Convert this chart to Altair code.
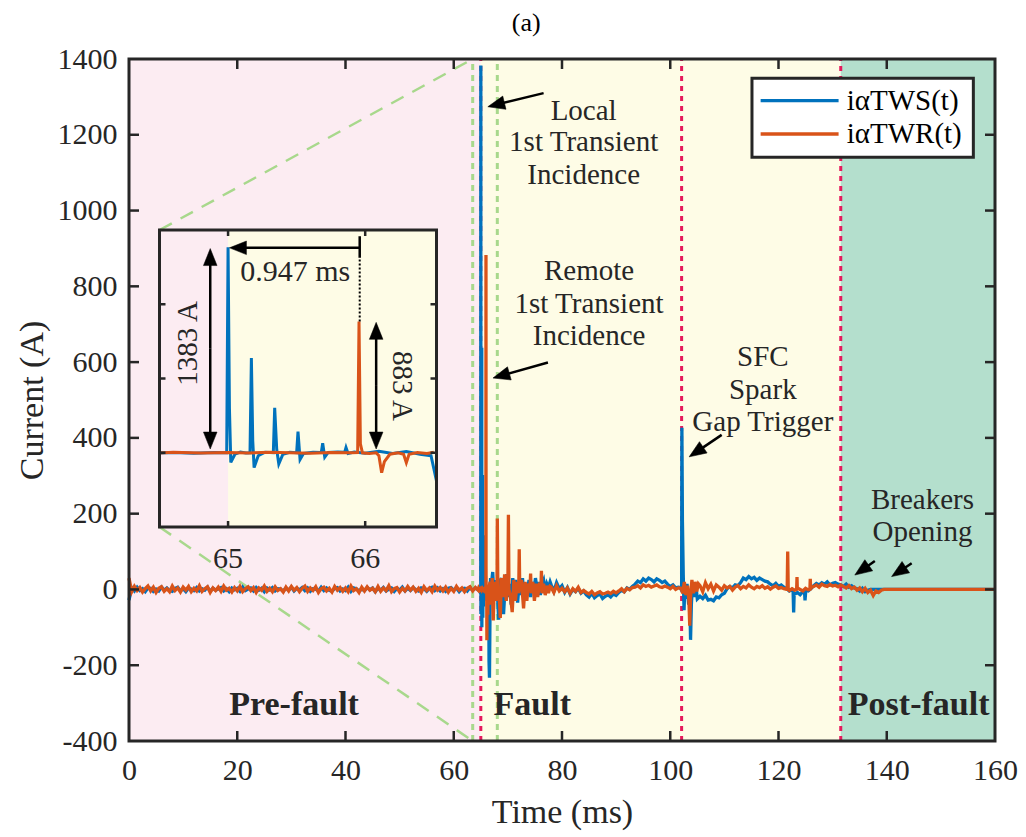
import math
import altair as alt
import pandas as pd

FONT = "Liberation Serif"
INK = "#262626"
BLUE = "#0072BD"
ORANGE = "#D95319"
PINK = "#FCECF2"
YELLOW = "#FEFCE6"
TEAL = "#B4DFCD"
GREEN = "#A8D88C"
RED = "#E5195C"

W, H = 866, 682
X_DOMAIN = [0, 160]
Y_DOMAIN = [-400, 1400]
PX_X = W / 160.0
PX_Y = H / 1800.0

# ---------------- series values ----------------
# pre-fault, sampled every 0.5 ms from 0 ms
TWS_PRE = [-28, 5, -4, 6, -3, 2, -6, 4, 3, -5, 1, -4, 6, -2, 4, -3, -5, 3, 6, -4,
           2, -6, 4, 1, -3, 5, -4, 2, -2, 6, -5, 3, -2, 1, 5, -4, 2, -6, 4, -1,
           3, -5, 6, -3, 1, 4, -4, 5, -2, 3, -6, 4, -1, 5, -4, 2, 1, -5, 4, -2,
           6, -4, 3, -1, 5, -3, 4, -5, 2, 1, -4, 6, -3, 4, -2, -5, 3, 5, -4, 1,
           -3, 6, -5, 4, 2, -4, 1, -3, 5, -1, 4, -6, 3, -2, 5, -4, 1, 4, -5, 3,
           -2, 6, -4, 3, -3, 5, -1, -4, 4, 2, -5, 3, 6, -3, 4, -4, 2, -5, 3, 5,
           -2, 4, -6, 2, 3, -4, 5, -2, 4, -1]
TWR_PRE = [30, -6, 8, -3, 5, -7, 2, 9, -4, 6, -8, 3, 7, -5, 2, -6, 9, -3, 4, -7,
           6, -2, 8, -6, 3, -4, 10, -5, 2, 7, -8, 4, -3, 6, -5, 9, -2, 3, -7, 5,
           -4, 8, -6, 2, 7, -3, 5, -8, 4, -2, 9, -5, 3, -6, 7, -3, 2, -7, 6, -4,
           8, -2, 5, -6, 3, 9, -5, 4, -3, 7, -8, 2, 6, -4, 3, -7, 8, -2, 5, -5,
           4, -6, 9, -3, 2, -8, 6, -4, 7, -2, 3, -6, 8, -5, 4, -3, 10, -6, 2, 5,
           -7, 3, -4, 8, -2, 6, -5, 3, -8, 7, -3, 4, -6, 9, -2, 5, -4, 6, -7, 3,
           -5, 8, -2, 4, -6, 3, 7, -4, 5, -2]

# first transient (explicit times)
TWS_T1_T = [64.6, 64.75, 64.9, 64.99, 65.0, 65.01, 65.02, 65.05, 65.09, 65.13,
            65.16, 65.17, 65.18, 65.19, 65.22, 65.27, 65.33, 65.34, 65.355, 65.37,
            65.4, 65.45, 65.5, 65.51, 65.525, 65.55, 65.62, 65.68, 65.69, 65.705,
            65.73, 65.8, 65.85, 65.86, 65.875, 65.92, 66.0, 66.1, 66.2, 66.3,
            66.4, 66.48, 66.52, 66.6, 66.7, 66.8, 66.9, 67.0, 67.2, 67.4,
            67.6, 67.8, 68.0, 68.3, 68.5, 68.8, 69.0, 69.2, 69.5, 69.8,
            70.0, 70.3, 70.6, 70.9, 71.2, 71.5, 71.8, 72.1, 72.4, 72.7,
            73.0, 73.3, 73.6, 73.9, 74.2, 74.5, 74.8, 75.1, 75.4, 75.7,
            76.0, 76.3, 76.6, 76.9, 77.2, 77.5, 77.8]
TWS_T1_V = [2, -3, 1, 0, 1383, 300, -65, -10, 5, -2,
            0, 638, 80, -100, -20, 4, 0, 302, 20, -75,
            -10, 3, 0, 143, -45, -5, 4, 2, 65, -30,
            2, 5, 3, 35, -5, 5, -3, 10, -5, 8,
            -10, -20, -190, -233, -60, 30, -20, 20, 46, -10,
            25, -30, 10, -80, 20, 30, -10, -65, 10, 40,
            -20, 15, -40, 30, -10, 25, -35, 20, -15, 30,
            -25, 15, -10, 25, -20, 20, -5, 30, 0, 20,
            -15, 15, 25, -5, 15, 5, 20]
TWR_T1_T = [64.6, 64.8, 65.0, 65.15, 65.3, 65.45, 65.6, 65.75, 65.9, 65.945,
            65.955, 65.965, 65.98, 66.03, 66.08, 66.1, 66.12, 66.14, 66.18, 66.24,
            66.28, 66.3, 66.32, 66.38, 66.45, 66.5, 66.7, 66.9, 67.1, 67.3,
            67.5, 67.8, 68.0, 68.05, 68.15, 68.4, 68.6, 68.8, 69.1, 69.4,
            69.7, 70.0, 70.1, 70.2, 70.5, 70.8, 71.1, 71.4, 71.7, 72.0,
            72.1, 72.2, 72.5, 72.9, 73.2, 73.5, 73.8, 74.1, 74.2, 74.3,
            74.6, 74.9, 75.2, 75.5, 75.8, 76.1, 76.2, 76.3, 76.6, 76.9,
            77.2, 77.5, 77.8]
TWR_T1_V = [3, -2, 2, -2, 3, 0, -3, 2, 0, 2,
            883, 60, 0, -5, 0, -20, -134, -60, -10, 0,
            -10, -67, -10, 2, -5, 3, 20, -40, 30, -82,
            20, -30, 10, 187, 0, -20, -75, 30, -20, 40,
            -30, 10, 197, 0, -20, -60, 25, -30, 20, -10,
            106, -5, 25, -50, 20, -30, 15, 5, 42, -10,
            20, -30, 15, -20, 10, 5, 49, -10, 15, -15,
            10, -10, 8]

# fault period, sampled every 0.5 ms from 78 ms
TWS_MID1 = [12, -5, 18, 2, 10,
            -8, 5, -12, 0, -6, 3, -10, -4,
            -14, -20, -10, -22, -16, -12, -24, -18, -14, -20, -12, -16,
            -8, -2, -6, 4, 0, 8,
            14, 22, 18, 28, 22, 30, 26, 20, 28, 24, 18, 22,
            14, 8, 12, 4, 6]
TWR_MID1 = [6, -8, 10, -4, 3,
            -6, 4, -10, 2, -5, 6, -8, -3,
            -8, -12, -5, -14, -9, -6, -12, -10, -7, -11, -5, -9,
            -4, 2, -6, 3, -1, 5,
            6, 10, 4, 12, 8, 11, 6, 9, 12, 7, 5, 9,
            6, 2, 8, 0, 4]

# spark-gap trigger transient (explicit times)
TWS_T2_T = [101.8, 102.0, 102.1, 102.15, 102.25, 102.4, 102.55, 102.7, 102.9, 103.1,
            103.4, 103.6, 103.75, 103.9, 104.1, 104.4, 104.7, 105.0]
TWS_T2_V = [5, 0, 3, 427, 180, 40, -55, 10, -25, 15,
            -40, -10, -133, -40, 10, -20, 15, -25]
TWR_T2_T = [102.0, 102.3, 102.6, 102.9, 103.2, 103.45, 103.6, 103.75, 104.0, 104.3,
            104.6, 104.9, 105.2]
TWR_T2_V = [3, -10, 20, -15, 10, -30, -96, -20, 25, -10, 20, -5, 15]

# after trigger, sampled every 0.5 ms from 105.5 ms
TWS_MID2 = [-18, -24, -15, -28,
            -26, -30, -20, -22, -14, -10,
            2, 8, 4, 12, 10, 18,
            30, 26, 34, 28, 32, 24, 30, 26, 22, 20,
            14, 10, 16, 8, 12, 6,
            2, -4, 0,
            -12, -8, -14, -6, -10, -4, 2,
            10, 16, 12, 18, 14, 20, 12, 16, 18, 14,
            12, 8, 14, 6, 10, 4,
            2, -4, 3, -6, -2, 0]
TWR_MID2 = [10, -6, 18, 2, 14, -4, 12, 6, -2, 10,
            4, 8, -2, 6, 10, 2, 8, 4, 12, 6, 2, 8, 5, 10, 3, 7, 1, 6, 9, 3, 5, 2,
            0, -3, 2, -2, 4, 0, -4, 3, -1, 5,
            8, 12, 6, 14, 10, 8, 13, 9, 11, 7, 12,
            8, 4, 10, 2, 6, -2, 4, -6, 3, -8, -2, -16, -4, -8, -2, 0]

# isolated short spikes
TWS_SPK_T = [122.7, 122.8, 122.9, 124.8, 124.9, 125.0]
TWS_SPK_V = [-5, -61, -8, -4, -29, -2]
TWR_SPK_T = [121.6, 121.7, 121.8, 123.35, 123.42, 123.48, 125.8, 125.87, 125.94]
TWR_SPK_V = [0, 100, 0, 0, 33, 0, 0, 28, 0]

# flat after breakers open
TWS_END_T = [137.5, 160]
TWS_END_V = [0, 0]
TWR_END_T = [140.0, 160]
TWR_END_V = [0, 0]


def grid(start, vals, step=0.5):
    return [round(start + step * i, 3) for i in range(len(vals))]


tws = pd.DataFrame({
    "t": grid(0, TWS_PRE) + TWS_T1_T + grid(78, TWS_MID1) + TWS_T2_T
         + grid(105.5, TWS_MID2) + TWS_SPK_T + TWS_END_T,
    "v": TWS_PRE + TWS_T1_V + TWS_MID1 + TWS_T2_V + TWS_MID2 + TWS_SPK_V + TWS_END_V,
})
twr = pd.DataFrame({
    "t": grid(0, TWR_PRE) + TWR_T1_T + grid(78, TWR_MID1) + TWR_T2_T
         + grid(105.5, TWR_MID2) + TWR_SPK_T + TWR_END_T,
    "v": TWR_PRE + TWR_T1_V + TWR_MID1 + TWR_T2_V + TWR_MID2 + TWR_SPK_V + TWR_END_V,
})

# ---------------- regions / reference lines ----------------
BAND_START = [0, 65.0, 131.5]
BAND_END = [65.0, 131.5, 160]
BAND_COLORS = [PINK, YELLOW, TEAL]
GREEN_X = [63.5, 68.05]
RED_X = [65.0, 102.1, 131.5]
X_TICKS = list(range(0, 161, 20))
Y_TICKS = list(range(-400, 1401, 200))

# inset geometry (zoom of 64.5 - 66.52 ms)
I_X_DOMAIN = [64.5, 66.52]
I_Y_DOMAIN = [-500, 1500]
I_X_RANGE = [30.5, 307.5]
I_Y_RANGE = [468, 171]
IPX_X = (I_X_RANGE[1] - I_X_RANGE[0]) / (I_X_DOMAIN[1] - I_X_DOMAIN[0])
IPX_Y = (I_Y_RANGE[0] - I_Y_RANGE[1]) / (I_Y_DOMAIN[1] - I_Y_DOMAIN[0])
I_BAND_START = [64.5, 65.0]
I_BAND_END = [65.0, 66.52]
I_BAND_COLORS = [PINK, YELLOW]
I_X_TICKS = [65, 66]
I_Y_TICKS = [0, 500, 1000]
# inset box corners expressed on main axes (for the zoom guide lines)
INSET_MAIN_X = 5.64
INSET_MAIN_TOP = 948.7
INSET_MAIN_BOTTOM = 164.9

# ---------------- scales / axes ----------------
XS = alt.Scale(domain=X_DOMAIN, nice=False, zero=False)
YS = alt.Scale(domain=Y_DOMAIN, nice=False, zero=False)
XA = alt.Axis(values=X_TICKS, grid=False, domain=False, ticks=False, labelPadding=14,
              labelFlush=False, labelOverlap=False, title="Time (ms)",
              titleBaseline="alphabetic", titleY=81)
YA = alt.Axis(values=Y_TICKS, grid=False, domain=False, ticks=False, labelPadding=12,
              labelFlush=False, labelOverlap=False, labelExpr="'' + datum.value",
              title="Current (A)", titleBaseline="alphabetic", titleX=-87, titleY=341,
              titleAngle=270, titleAlign="center")


def X(f):
    return alt.X(f"{f}:Q", scale=XS, axis=XA)


def Y(f):
    return alt.Y(f"{f}:Q", scale=YS, axis=YA)


IXS = alt.Scale(domain=I_X_DOMAIN, range=I_X_RANGE, nice=False, zero=False)
IYS = alt.Scale(domain=I_Y_DOMAIN, range=I_Y_RANGE, nice=False, zero=False)


def IX(f):
    return alt.X(f"{f}:Q", scale=IXS, axis=None)


def IY(f):
    return alt.Y(f"{f}:Q", scale=IYS, axis=None)


# ---------------- arrows ----------------
HEAD = "M0,0L-0.4,1L0.4,1Z"
HEAD_LEN = 17


def build_arrows(arrows, px_x, px_y):
    rules, heads = [], []
    for (tx, ty), (hx, hy) in arrows:
        dx = (hx - tx) * px_x
        dy = -(hy - ty) * px_y
        length = math.hypot(dx, dy)
        ang = math.degrees(math.atan2(dx, -dy)) % 360
        f = (HEAD_LEN * 0.6) / length
        ex = hx - (hx - tx) * f
        ey = hy - (hy - ty) * f
        rules.append({"x": tx, "y": ty, "x2": ex, "y2": ey})
        heads.append({"x": hx, "y": hy, "ang": ang})
    return pd.DataFrame(rules), pd.DataFrame(heads)


MAIN_ARROWS = [
    ((76.6, 1310), (66.3, 1274)),
    ((77.4, 599), (67.25, 558)),
    ((109.5, 408), (103.5, 350)),
    ((137.8, 75), (134.1, 38)),
    ((144.6, 69), (140.9, 34)),
]
INSET_ARROWS = [
    ((64.87, 700), (64.87, 1375)),
    ((64.87, 700), (64.87, 25)),
    ((66.08, 450), (66.08, 878)),
    ((66.08, 450), (66.08, 25)),
    ((65.96, 1380), (65.01, 1380)),
]

# ---------------- text ----------------
NOTE_TEXT = ["Local", "1st Transient", "Incidence",
             "Remote", "1st Transient", "Incidence",
             "SFC", "Spark", "Gap Trigger",
             "Breakers", "Opening"]
NOTE_X = [84.0, 84.0, 84.0, 85.0, 85.0, 85.0, 117.1, 117.1, 117.1, 146.6, 146.6]
NOTE_Y = [1263, 1181, 1094, 840, 753, 669, 613, 526, 442, 236, 152]
PHASE_TEXT = ["Pre-fault", "Fault", "Post-fault"]
PHASE_X = [30.5, 74.5, 145.9]
PHASE_Y = [-305, -305, -305]
LEGEND_NAMES = ["i\u03b1TWS(t)", "i\u03b1TWR(t)"]
LEGEND_COLORS = [BLUE, ORANGE]
LEGEND_Y = [1290, 1202]

# ---------------- main layers ----------------
bands = pd.DataFrame({"s": BAND_START, "e": BAND_END, "c": BAND_COLORS,
                      "y0": -400, "y1": 1400})
band_layer = alt.Chart(bands).mark_rect().encode(
    x=X("s"), x2="e", y=Y("y0"), y2="y1", color=alt.Color("c:N", scale=None))

green_v = alt.Chart(pd.DataFrame({"x": GREEN_X, "y0": -400, "y1": 1400})).mark_rule(
    color=GREEN, strokeWidth=3, strokeDash=[6, 5]).encode(x=X("x"), y=Y("y0"), y2="y1")

green_d = alt.Chart(pd.DataFrame({
    "x": [INSET_MAIN_X, INSET_MAIN_X], "y": [INSET_MAIN_TOP, INSET_MAIN_BOTTOM],
    "x2": [GREEN_X[0], GREEN_X[0]], "y2": [1400, -400]})).mark_rule(
    color=GREEN, strokeWidth=2.5, strokeDash=[14, 10]).encode(
    x=X("x"), y=Y("y"), x2="x2", y2="y2")

red_v = alt.Chart(pd.DataFrame({"x": RED_X, "y0": -400, "y1": 1400})).mark_rule(
    color=RED, strokeWidth=3, strokeDash=[5, 5]).encode(x=X("x"), y=Y("y0"), y2="y1")

line_tws = alt.Chart(tws).mark_line(color=BLUE, strokeWidth=3.3).encode(x=X("t"), y=Y("v"))
line_twr = alt.Chart(twr).mark_line(color=ORANGE, strokeWidth=3.3).encode(x=X("t"), y=Y("v"))

tick_len_y = 10 / PX_Y
tick_len_x = 10 / PX_X
tick_rows = []
for t in X_TICKS[1:-1]:
    tick_rows.append({"x": t, "x2": t, "y": -400, "y2": -400 + tick_len_y})
    tick_rows.append({"x": t, "x2": t, "y": 1400, "y2": 1400 - tick_len_y})
for v in Y_TICKS[1:-1]:
    tick_rows.append({"x": 0, "x2": tick_len_x, "y": v, "y2": v})
    tick_rows.append({"x": 160, "x2": 160 - tick_len_x, "y": v, "y2": v})
ticks = alt.Chart(pd.DataFrame(tick_rows)).mark_rule(color=INK, strokeWidth=2.5).encode(
    x=X("x"), x2="x2", y=Y("y"), y2="y2")

frame = alt.Chart(pd.DataFrame({"x": [0], "x2": [160], "y": [-400], "y2": [1400]})).mark_rect(
    filled=False, stroke=INK, strokeWidth=3).encode(x=X("x"), x2="x2", y=Y("y"), y2="y2")

notes = alt.Chart(pd.DataFrame({"t": NOTE_TEXT, "x": NOTE_X, "y": NOTE_Y})).mark_text(
    font=FONT, fontSize=29, color=INK, align="center", baseline="middle").encode(
    x=X("x"), y=Y("y"), text="t:N")

phases = alt.Chart(pd.DataFrame({"t": PHASE_TEXT, "x": PHASE_X, "y": PHASE_Y})).mark_text(
    font=FONT, fontSize=34, fontWeight="bold", color=INK, align="center",
    baseline="middle").encode(x=X("x"), y=Y("y"), text="t:N")

m_rules, m_heads = build_arrows(MAIN_ARROWS, PX_X, PX_Y)
arrow_rules = alt.Chart(m_rules).mark_rule(color="black", strokeWidth=2.5).encode(
    x=X("x"), y=Y("y"), x2="x2", y2="y2")
arrow_heads = alt.Chart(m_heads).mark_point(
    shape=HEAD, filled=True, fill="black", stroke="black", strokeWidth=0.5,
    opacity=1, size=(2 * HEAD_LEN) ** 2).encode(
    x=X("x"), y=Y("y"), angle=alt.Angle("ang:Q", scale=None))

legend_box = alt.Chart(pd.DataFrame({"x": [115.1], "x2": [156.0],
                                     "y": [1140.5], "y2": [1349.0]})).mark_rect(
    fill="white", stroke=INK, strokeWidth=3).encode(x=X("x"), x2="x2", y=Y("y"), y2="y2")
legend_lines = alt.Chart(pd.DataFrame({"x": 116.7, "x2": 131.1, "y": LEGEND_Y,
                                       "c": LEGEND_COLORS})).mark_rule(strokeWidth=3.3).encode(
    x=X("x"), x2="x2", y=Y("y"), color=alt.Color("c:N", scale=None))
legend_text = alt.Chart(pd.DataFrame({"t": LEGEND_NAMES, "x": 132.6, "y": LEGEND_Y})).mark_text(
    font=FONT, fontSize=29, color="black", align="left", baseline="middle").encode(
    x=X("x"), y=Y("y"), text="t:N")

title = alt.Chart(pd.DataFrame({"t": ["(a)"], "x": [73.4], "y": [1496]})).mark_text(
    font=FONT, fontSize=26, color="black", align="center", baseline="middle").encode(
    x=X("x"), y=Y("y"), text="t:N")

main = alt.layer(band_layer, green_v, red_v, green_d, line_tws, line_twr, ticks, frame,
                 notes, phases, arrow_rules, arrow_heads, legend_box, legend_lines,
                 legend_text, title)

# ---------------- inset layers ----------------
in_window = f"datum.t >= {I_X_DOMAIN[0]} && datum.t <= {I_X_DOMAIN[1]}"
i_bands = alt.Chart(pd.DataFrame({"s": I_BAND_START, "e": I_BAND_END, "c": I_BAND_COLORS,
                                  "y0": I_Y_DOMAIN[0], "y1": I_Y_DOMAIN[1]})).mark_rect().encode(
    x=IX("s"), x2="e", y=IY("y0"), y2="y1", color=alt.Color("c:N", scale=None))
i_tws = alt.Chart(tws).transform_filter(in_window).mark_line(
    color=BLUE, strokeWidth=3).encode(x=IX("t"), y=IY("v"))
i_twr = alt.Chart(twr).transform_filter(in_window).mark_line(
    color=ORANGE, strokeWidth=3).encode(x=IX("t"), y=IY("v"))
i_frame = alt.Chart(pd.DataFrame({"x": [I_X_DOMAIN[0]], "x2": [I_X_DOMAIN[1]],
                                  "y": [I_Y_DOMAIN[0]], "y2": [I_Y_DOMAIN[1]]})).mark_rect(
    filled=False, stroke=INK, strokeWidth=3).encode(x=IX("x"), x2="x2", y=IY("y"), y2="y2")

itl_y = 6 / IPX_Y
itl_x = 6 / IPX_X
i_tick_rows = []
for t in I_X_TICKS:
    i_tick_rows.append({"x": t, "x2": t, "y": I_Y_DOMAIN[0], "y2": I_Y_DOMAIN[0] + itl_y})
    i_tick_rows.append({"x": t, "x2": t, "y": I_Y_DOMAIN[1], "y2": I_Y_DOMAIN[1] - itl_y})
for v in I_Y_TICKS:
    i_tick_rows.append({"x": I_X_DOMAIN[0], "x2": I_X_DOMAIN[0] + itl_x, "y": v, "y2": v})
    i_tick_rows.append({"x": I_X_DOMAIN[1], "x2": I_X_DOMAIN[1] - itl_x, "y": v, "y2": v})
i_ticks = alt.Chart(pd.DataFrame(i_tick_rows)).mark_rule(color=INK, strokeWidth=2.5).encode(
    x=IX("x"), x2="x2", y=IY("y"), y2="y2")
i_tick_labels = alt.Chart(pd.DataFrame({"x": I_X_TICKS, "y": -718,
                                        "t": [str(v) for v in I_X_TICKS]})).mark_text(
    font=FONT, fontSize=30, color=INK, align="center", baseline="middle").encode(
    x=IX("x"), y=IY("y"), text="t:N")

i_rules, i_heads = build_arrows(INSET_ARROWS, IPX_X, IPX_Y)
i_arrow_rules = alt.Chart(i_rules).mark_rule(color="black", strokeWidth=2.5).encode(
    x=IX("x"), y=IY("y"), x2="x2", y2="y2")
i_arrow_heads = alt.Chart(i_heads).mark_point(
    shape=HEAD, filled=True, fill="black", stroke="black", strokeWidth=0.5,
    opacity=1, size=(2 * HEAD_LEN) ** 2).encode(
    x=IX("x"), y=IY("y"), angle=alt.Angle("ang:Q", scale=None))
i_bar = alt.Chart(pd.DataFrame({"x": [65.96], "y": [1313], "y2": [1458]})).mark_rule(
    color="black", strokeWidth=2.5).encode(x=IX("x"), y=IY("y"), y2="y2")
i_dots = alt.Chart(pd.DataFrame({"x": [65.96], "y": [883], "y2": [1313]})).mark_rule(
    color="black", strokeWidth=2, strokeDash=[2, 2]).encode(x=IX("x"), y=IY("y"), y2="y2")
i_text = alt.Chart(pd.DataFrame({"t": ["0.947 ms"], "x": [65.49], "y": [1214]})).mark_text(
    font=FONT, fontSize=30, color=INK, align="center", baseline="middle").encode(
    x=IX("x"), y=IY("y"), text="t:N")
i_text_l = alt.Chart(pd.DataFrame({"t": ["1383 A"], "x": [64.71], "y": [736]})).mark_text(
    font=FONT, fontSize=29, color=INK, align="center", baseline="middle", angle=270).encode(
    x=IX("x"), y=IY("y"), text="t:N")
i_text_r = alt.Chart(pd.DataFrame({"t": ["883 A"], "x": [66.27], "y": [450]})).mark_text(
    font=FONT, fontSize=29, color=INK, align="center", baseline="middle", angle=90).encode(
    x=IX("x"), y=IY("y"), text="t:N")

inset = alt.layer(i_bands, i_tws, i_twr, i_frame, i_ticks, i_tick_labels, i_arrow_rules,
                  i_arrow_heads, i_bar, i_dots, i_text, i_text_l, i_text_r)

chart = alt.layer(main, inset).resolve_scale(
    x="independent", y="independent"
).properties(
    width=W, height=H,
    padding={"left": 129, "top": 59, "right": 1026 - 129 - W, "bottom": 837 - 59 - H},
    autosize=alt.AutoSizeParams(type="none"),
    background="white",
).configure_view(stroke=None).configure_axis(
    labelFont=FONT, titleFont=FONT, labelFontSize=30, titleFontSize=34,
    labelColor=INK, titleColor=INK, titleFontWeight="normal"
)

chart.save("out.html", embed_options={"renderer": "svg", "actions": False})
